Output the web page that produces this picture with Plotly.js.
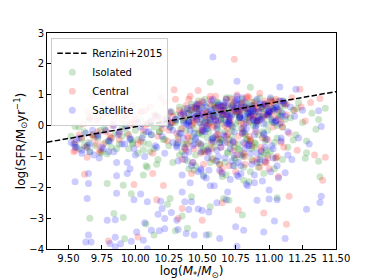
<!DOCTYPE html>
<html><head><meta charset="utf-8">
<script src="https://cdn.plot.ly/plotly-3.0.1.min.js"></script>
<style>html,body{margin:0;padding:0;background:#fff}#chart{width:374px;height:280px}</style>
</head><body><div id="chart"></div>
<script>
// Renzini+2015 main sequence endpoints
const lineX = [9.34, 11.5];
const lineY = [-0.54, 1.10];

// Isolated (green)
const isoX = [10.56,10.86,11.42,11.37,11.35,11.27,11.28,11.37,11.38,11.06,10.80,10.70,10.66,10.56,10.55,10.42,10.35,10.30,10.39,10.26,10.24,10.14,10.08,9.92,9.84,9.91,9.66,9.79,9.91,9.97,10.06,10.09,10.16,9.65,9.58,9.55,9.74,9.79,10.06,10.81,10.85,10.96,10.96,11.18,
9.52,9.55,9.58,9.60,9.62,9.65,9.68,9.70,9.72,9.75,9.77,9.80,9.82,9.85,9.88,9.90,9.92,9.95,9.97,10.00,10.02,10.04,10.06,10.08,10.10,10.12,10.14,10.15,10.17,10.19,10.21,10.23,10.25,10.27,10.28,10.30,10.32,10.33,10.35,10.36,10.38,10.39,10.40,10.41,10.42,10.43,10.45,10.46,10.47,10.48,10.49,10.50,10.51,10.52,10.53,10.54,10.55,10.56,10.57,10.58,10.59,10.60,10.61,10.62,10.63,10.64,10.65,10.66,10.67,10.68,10.69,10.70,10.71,10.72,10.73,10.74,10.75,10.76,10.77,10.78,10.79,10.80,10.81,10.82,10.83,10.84,10.85,10.86,10.87,10.88,10.89,10.90,10.91,10.92,10.93,10.94,10.95,10.96,10.97,10.98,10.99,11.00,11.01,11.02,11.03,11.04,11.05,11.06,11.08,11.10,11.12,11.14,11.16,11.18,11.20,11.22,11.25,11.28,
10.45,10.55,10.65,10.75,10.85,10.95,10.60,10.70,10.80,10.90,10.50,10.40,10.62,10.72,10.82,10.92,10.58,10.68,10.78,10.88,10.98,10.44,10.54,10.64,10.74,10.84,11.04,10.36,10.26,10.18,9.64,9.98,10.11,10.31,10.67,10.77,10.87,11.11,11.21,11.32,
10.31,10.34,10.37,10.40,10.43,10.46,10.49,10.52,10.55,10.58,10.61,10.64,10.67,10.70,10.73,10.76,10.79,10.82,10.85,10.88,10.91,10.94,10.97,11.00,11.03,11.06,11.09,11.12,
10.33,10.39,10.45,10.51,10.57,10.63,10.69,10.75,10.81,10.87,10.93,10.99,11.05,
10.36,10.42,10.48,10.54,10.60,10.66,10.72,10.78,10.84,10.90,10.96,11.02,11.08,
10.47,10.53,10.59,10.65,10.71,10.77,10.83,10.89,
9.62,9.70,9.78,9.86,9.94,10.02,10.10,10.18,10.26,
9.66,9.74,9.82,9.90,9.98,10.06,10.14,10.22,10.30,
10.38,10.44,10.50,10.56,10.62,10.68,10.74,10.80,10.86,10.92,10.98,11.04,11.10,10.41,10.47,10.53,10.59,10.65,10.71,10.77,10.83,10.89,10.95,11.01,11.07];
const isoY = [1.40,1.24,0.56,0.20,-0.12,-1.06,-0.88,-1.16,-1.66,-2.34,-2.90,-2.42,-2.36,-2.63,-3.53,-2.31,-2.93,-3.41,-3.33,-2.36,-2.55,-3.55,-3.19,-3.67,-2.85,-2.98,-3.00,-1.88,-1.93,-2.21,-1.60,-1.35,-1.25,0.18,-0.05,-0.03,-0.90,-0.92,-0.78,-1.77,-1.82,-1.55,-0.90,-0.47,
-0.35,-0.62,-0.75,-0.45,-0.20,-0.55,-0.30,-0.65,-0.40,-0.85,-0.10,-0.50,-0.70,-0.25,-0.60,-0.35,0.05,-0.75,-0.45,-0.15,-0.90,0.20,-0.55,-1.30,0.10,-0.30,-0.75,0.35,-1.10,0.00,-0.45,0.25,-0.65,0.45,-1.20,0.10,-0.35,0.60,-0.85,0.15,-0.15,0.40,-1.40,-0.50,0.70,0.05,-0.95,0.30,-0.25,0.55,-0.65,0.20,-1.60,0.85,-0.10,0.45,-0.75,0.10,0.65,-0.40,0.30,-1.15,0.00,0.75,-0.55,0.25,-1.65,0.50,-0.20,0.90,-0.85,0.15,0.40,-0.35,0.70,-1.30,0.05,0.55,-0.60,0.30,-0.10,0.85,-0.95,0.20,0.60,-0.45,0.35,-1.50,0.75,0.00,-0.70,0.45,0.15,-0.30,0.90,-1.00,0.25,0.55,-0.50,0.70,-0.15,0.40,-0.85,0.60,0.10,-1.40,0.80,-0.40,0.35,-0.05,0.65,-0.70,0.25,0.50,-0.30,0.75,0.10,-0.50,
0.60,0.35,0.05,0.35,0.10,-0.20,0.55,-0.45,0.50,-0.60,-0.30,0.25,-0.15,0.65,-0.25,0.30,-0.55,0.45,-0.80,0.65,0.05,-0.10,-0.40,0.20,-1.05,0.40,0.50,-0.60,0.05,-0.20,-0.70,-0.55,-0.85,-0.60,-1.20,0.15,-1.10,0.80,0.55,0.40,
0.35,-0.10,0.55,0.15,-0.35,0.45,0.05,0.65,-0.20,0.30,0.75,-0.45,0.20,0.55,-0.05,0.40,0.70,-0.30,0.25,0.50,0.05,0.60,-0.40,0.30,0.55,0.00,0.45,0.20,
-0.95,-1.15,-1.30,-0.80,-1.05,-1.25,-0.90,-1.10,-1.35,-0.75,-1.20,-0.95,-1.05,
0.20,0.50,-0.25,0.10,0.40,0.65,-0.15,0.25,0.50,0.80,0.35,0.15,0.60,
-0.55,-0.65,-0.70,-0.50,-0.60,-0.75,-0.45,-0.55,
-0.65,-0.35,-0.55,-0.75,-0.25,-0.45,-0.60,-0.20,-0.05,
-0.85,-0.15,-0.40,-0.10,-0.60,-0.30,-0.05,-0.45,0.15,
-0.60,-1.45,-0.85,-1.20,-0.40,-1.60,-0.70,-1.00,-0.50,-1.35,-0.80,-0.55,-1.10,0.50,0.80,0.20,0.65,0.35,0.90,0.45,0.70,0.15,0.55,0.85,0.30];

// Central (red)
const cenX = [10.74,10.47,10.29,10.19,11.23,11.31,11.38,11.34,11.42,11.40,11.15,11.13,10.96,10.77,10.65,10.50,10.35,10.32,10.21,10.16,10.02,9.80,9.64,9.62,9.99,10.13,9.54,9.71,9.84,9.86,9.66,9.74,9.81,9.55,10.99,10.64,10.82,10.91,10.97,11.07,
9.55,9.58,9.61,9.63,9.66,9.69,9.71,9.73,9.76,9.78,9.80,9.83,9.86,9.88,9.90,9.93,9.95,9.97,10.00,10.02,10.04,10.06,10.09,10.11,10.13,10.15,10.17,10.20,10.22,10.24,10.26,10.28,10.30,10.31,10.33,10.35,10.37,10.38,10.40,10.41,10.43,10.44,10.46,10.47,10.49,10.50,10.51,10.53,10.54,10.56,10.57,10.58,10.60,10.61,10.62,10.64,10.65,10.66,10.68,10.69,10.70,10.72,10.73,10.74,10.76,10.77,10.78,10.80,10.81,10.82,10.84,10.85,10.86,10.88,10.89,10.90,10.92,10.93,10.94,10.96,10.97,10.98,11.00,11.01,11.03,11.05,11.07,11.09,11.11,11.13,11.15,11.17,11.19,11.21,11.24,11.27,
9.76,9.82,9.88,9.94,10.00,10.08,10.14,9.72,9.92,10.05,10.18,10.25,10.36,10.42,10.48,10.52,10.58,10.63,10.67,10.71,10.75,10.79,10.83,10.87,10.91,10.95,10.99,10.45,10.55,10.65,10.85,10.39,10.59,10.69,10.79,10.89,11.02,9.68,9.98,10.27,
10.32,10.35,10.38,10.41,10.44,10.47,10.50,10.53,10.56,10.59,10.62,10.65,10.68,10.71,10.74,10.77,10.80,10.83,10.86,10.89,10.92,10.95,10.98,11.01,11.04,11.07,11.10,11.13,
10.34,10.40,10.46,10.52,10.58,10.64,10.70,10.76,10.82,10.88,10.94,11.00,11.06,
10.37,10.43,10.49,10.55,10.61,10.67,10.73,10.79,10.85,10.91,10.97,11.03,11.09,
10.44,10.50,10.56,10.62,10.68,10.74,10.80,10.86,
9.60,9.68,9.76,9.84,9.92,10.00,10.08,10.16,10.24,
9.64,9.72,9.80,9.88,9.96,10.04,10.12,10.20,10.28,
10.39,10.45,10.51,10.57,10.63,10.69,10.75,10.81,10.87,10.93,10.99,11.05,11.11,10.42,10.48,10.54,10.60,10.66,10.72,10.78,10.84,10.90,10.96,11.02,11.08];
const cenY = [2.15,1.14,1.16,0.90,1.18,0.75,0.88,-0.95,-1.03,-1.77,-2.29,-3.20,-2.83,-2.74,-2.50,-3.07,-2.69,-3.01,-1.94,-2.40,-3.61,-3.74,-1.03,-1.58,-1.91,-1.55,-0.85,-0.60,0.62,0.45,0.25,-0.78,-0.35,-0.80,-1.05,-1.50,-1.25,-1.10,-1.20,-1.65,
-0.55,-0.30,0.05,-0.70,0.25,-0.40,0.15,-0.85,0.30,-0.20,0.55,0.00,0.40,-0.45,0.20,0.50,-0.30,0.10,0.35,-0.60,0.45,-0.15,0.05,0.60,-0.90,0.30,-0.35,0.20,0.75,-0.50,0.40,0.10,0.85,-0.25,0.50,-1.10,0.25,0.65,-0.40,0.95,0.15,-0.75,0.55,0.35,-0.15,0.80,-1.25,0.45,0.00,0.70,-0.55,0.30,0.95,-0.30,0.15,0.60,-1.40,0.40,0.85,-0.10,0.25,0.65,-0.80,0.50,1.00,-0.35,0.35,0.75,0.05,-1.00,0.55,0.90,-0.45,0.30,0.65,-0.20,0.45,1.05,-0.70,0.25,0.80,-1.20,0.40,0.60,-0.05,0.85,0.20,-0.55,0.70,0.35,-0.25,0.90,0.50,-0.80,0.60,0.15,0.75,-0.40,0.45,
0.30,0.20,0.05,0.35,-0.20,0.55,0.45,0.10,-0.15,0.40,0.00,0.70,0.30,-0.05,0.45,0.65,0.20,0.50,0.10,0.55,0.35,0.15,0.60,0.40,0.25,0.05,0.50,-0.35,-0.60,0.00,-0.30,0.55,0.75,0.80,0.95,0.65,0.10,-0.45,-0.10,-0.80,
0.50,0.10,0.70,-0.15,0.40,0.85,0.20,-0.30,0.60,0.35,0.05,0.75,0.45,-0.10,0.90,0.30,0.55,0.15,-0.40,0.65,0.80,0.25,0.50,-0.05,0.70,0.40,0.85,0.20,
-0.85,-1.10,-0.70,-1.30,-0.95,-0.60,-1.15,-0.80,-1.40,-1.00,-0.75,-1.20,-0.90,
0.25,0.60,0.00,0.45,0.70,0.15,0.55,0.35,0.75,0.10,0.60,0.40,0.95,
-0.45,-0.35,-0.55,-0.25,-0.50,-0.40,-0.30,-0.60,
0.20,0.35,0.10,0.50,0.30,0.15,0.45,0.25,0.40,
-0.25,0.05,-0.50,0.15,-0.10,0.30,-0.35,0.55,0.05,
-0.75,-1.25,-0.55,-1.50,-0.90,-0.65,-1.35,-0.45,-1.05,-0.70,-1.55,-0.60,-0.85,0.60,0.35,0.85,0.50,0.95,0.25,0.70,0.45,0.80,0.60,0.55,0.75];

// Satellite (blue)
const satX = [10.58,10.76,11.08,11.20,11.37,11.39,11.39,11.38,11.28,11.12,11.04,10.96,10.76,10.75,10.81,10.63,10.53,10.44,10.38,10.32,10.22,10.18,10.17,10.22,10.27,10.31,10.37,10.42,10.40,10.47,10.50,10.55,10.35,10.20,10.19,10.09,10.04,9.99,10.12,10.07,10.06,10.09,10.01,9.97,9.89,9.85,9.85,9.81,9.79,9.85,9.65,9.63,9.67,9.64,9.65,9.65,9.55,9.86,9.86,9.94,9.96,9.94,9.86,9.80,9.73,9.66,9.54,9.56,11.12,11.17,11.14,11.00,11.06,10.91,11.00,10.84,10.79,10.76,10.89,10.68,10.69,10.61,10.56,10.51,10.49,
9.52,9.55,9.58,9.60,9.63,9.66,9.69,9.72,9.75,9.78,9.81,9.84,9.87,9.90,9.93,9.96,9.99,10.02,10.05,10.07,10.10,10.12,10.15,10.17,10.20,10.22,10.24,10.26,10.28,10.30,10.32,10.34,10.36,10.37,10.39,10.40,10.42,10.43,10.45,10.46,10.48,10.49,10.50,10.52,10.53,10.54,10.56,10.57,10.58,10.59,10.61,10.62,10.63,10.64,10.66,10.67,10.68,10.69,10.71,10.72,10.73,10.74,10.76,10.77,10.78,10.79,10.81,10.82,10.83,10.84,10.86,10.87,10.88,10.89,10.91,10.92,10.93,10.94,10.96,10.97,10.98,10.99,11.01,11.02,11.03,11.05,11.06,11.08,11.10,11.12,11.14,11.16,11.19,11.22,11.25,11.30,
10.46,10.51,10.56,10.61,10.66,10.71,10.76,10.81,10.86,10.91,10.96,10.48,10.53,10.58,10.63,10.68,10.73,10.78,10.83,10.88,10.93,10.44,10.54,10.64,10.74,10.84,10.94,10.59,10.69,10.79,10.89,10.99,10.41,10.36,10.31,10.26,11.04,11.09,10.62,10.72,10.82,10.87,10.57,10.67,10.77,
10.30,10.33,10.36,10.39,10.42,10.45,10.48,10.51,10.54,10.57,10.60,10.63,10.66,10.69,10.72,10.75,10.78,10.81,10.84,10.87,10.90,10.93,10.96,10.99,11.02,11.05,11.08,11.11,
10.31,10.34,10.37,10.40,10.43,10.46,10.49,10.52,10.55,10.58,10.61,10.64,10.67,10.70,10.73,10.76,10.79,10.82,10.85,10.88,10.91,10.94,10.97,11.00,11.03,11.06,11.09,11.12,
10.35,10.41,10.47,10.53,10.59,10.65,10.71,10.77,10.83,10.89,10.95,11.01,11.07,
10.38,10.44,10.50,10.56,10.62,10.68,10.74,10.80,10.86,10.92,10.98,11.04,11.10,
9.56,9.64,9.72,9.80,9.88,9.96,10.04,10.12,10.20,10.28,10.36,10.44,
9.60,9.68,9.76,9.84,9.92,10.00,10.08,10.16,10.24,10.32,10.40,10.48,
10.40,10.45,10.50,10.55,10.60,10.65,10.70,10.75,10.80,10.85,10.90,10.95,11.00,11.05,
10.37,10.43,10.49,10.55,10.61,10.67,10.73,10.79,10.85,10.91,10.97,11.03,11.09,10.40,10.46,10.52,10.58,10.64,10.70,10.76,10.82,10.88,10.94,11.00,11.06,10.50,10.60,10.70,10.80,10.90];
const satY = [2.22,1.44,1.25,1.18,0.48,-0.03,-2.29,-2.49,-2.71,-3.66,-3.09,-3.45,-3.91,-3.28,-3.39,-3.66,-3.55,-3.55,-3.50,-3.37,-3.34,-3.41,-2.87,-3.01,-2.82,-3.07,-2.47,-2.47,-2.72,-2.70,-2.75,-2.80,-2.15,-2.69,-2.45,-2.47,-2.22,-2.40,-3.39,-3.15,-3.72,-3.99,-3.45,-3.75,-3.83,-3.62,-3.93,-3.82,-3.07,-3.05,-3.55,-3.77,-3.77,-2.36,-1.88,-1.55,-1.82,-2.19,-1.63,-1.55,-1.40,-1.20,-1.20,-0.85,-1.05,-0.85,-0.60,-0.70,-1.53,-1.10,-0.95,-2.38,-2.40,-2.42,-2.09,-1.95,-1.55,-1.60,-1.85,-2.40,-2.15,-2.50,-1.95,-1.65,-1.45,
-0.55,-0.70,-0.40,-0.80,-0.25,-0.60,-0.95,-0.35,-0.70,-0.15,-0.50,-0.85,-0.30,-0.60,-0.05,-0.45,-0.75,0.10,-0.40,-1.00,-0.20,0.15,-0.65,0.30,-0.35,-0.90,0.05,0.45,-0.55,0.20,-1.15,-0.25,0.35,-0.70,0.55,0.00,-1.30,0.25,-0.45,0.70,0.10,-0.85,0.40,-0.20,0.60,-1.05,0.15,0.80,-0.50,0.30,-0.10,0.65,-1.45,0.20,0.50,-0.35,0.85,0.05,-0.75,0.35,0.60,-0.20,0.95,-1.20,0.25,0.50,-0.55,0.75,0.10,0.40,-0.90,0.65,0.20,-0.30,0.85,0.45,-1.10,0.55,0.05,0.70,-0.45,0.35,0.90,-0.65,0.55,0.15,-1.30,0.80,0.40,0.70,-0.20,0.60,0.30,-0.40,0.50,-0.60,
0.20,-0.15,0.35,0.05,-0.30,0.25,0.45,-0.05,0.30,0.15,-0.25,0.50,0.00,-0.40,0.40,0.10,-0.55,0.30,-0.10,0.55,0.20,-0.60,-0.80,-0.70,-0.95,-0.65,-0.85,0.55,0.65,0.60,0.45,0.35,-0.15,-0.40,-0.65,-0.05,0.10,0.30,-1.00,-1.15,-0.75,-1.25,-0.45,0.75,0.70,
0.20,-0.25,0.45,0.05,0.60,-0.40,0.30,0.75,-0.10,0.50,0.15,-0.55,0.65,0.35,0.00,0.80,0.25,-0.20,0.55,0.40,0.10,0.70,-0.30,0.45,0.20,0.60,0.05,0.75,
-0.70,0.35,-0.95,0.10,-1.20,0.55,-0.60,0.25,-1.45,0.40,-0.80,0.65,-1.05,0.15,-0.50,0.85,-1.30,0.30,-0.65,0.50,-0.90,0.20,-1.15,0.45,-0.75,0.60,-0.40,0.30,
-1.60,-1.85,-1.50,-1.70,-1.95,-1.55,-1.75,-1.65,-1.90,-1.60,-1.80,-1.50,-1.70,
0.05,0.40,0.60,0.20,0.70,0.35,0.55,0.90,0.45,0.25,0.65,0.50,0.80,
-0.45,-0.65,-0.30,-0.50,-0.20,-0.40,-0.05,-0.30,0.05,-0.15,0.10,-0.25,
-0.90,-0.15,-0.75,0.00,-0.60,-0.95,-0.20,-0.70,0.20,-0.55,-0.85,0.35,
0.15,0.30,-0.05,0.45,0.20,0.35,0.10,0.55,0.25,0.40,0.00,0.30,0.50,0.15,
-1.10,-0.65,-1.40,-0.85,-1.15,-0.55,-1.30,-0.95,-0.60,-1.20,-0.70,-1.05,-0.50,0.40,0.65,0.10,0.85,0.50,0.30,0.75,0.60,0.20,0.70,0.45,0.55,-0.20,-0.35,0.05,-0.25,-0.10];

const mk = (c) => ({color: c, size: 7, opacity: 0.2, line: {width: 0}});
const traces = [
  {x: isoX, y: isoY, mode: 'markers', type: 'scatter', name: 'Isolated', marker: mk('#008000'), legendrank: 2, hoverinfo: 'skip'},
  {x: cenX, y: cenY, mode: 'markers', type: 'scatter', name: 'Central', marker: mk('#ff0000'), legendrank: 3, hoverinfo: 'skip'},
  {x: satX, y: satY, mode: 'markers', type: 'scatter', name: 'Satellite', marker: mk('#0000ff'), legendrank: 4, hoverinfo: 'skip'},
  {x: lineX, y: lineY, mode: 'lines', type: 'scatter', name: 'Renzini+2015', line: {color: '#000', width: 1.5, dash: '5.5px,2.4px'}, legendrank: 1, hoverinfo: 'skip'}
];
const layout = {
  width: 374, height: 280,
  margin: {l: 47, r: 38, t: 33, b: 31},
  paper_bgcolor: '#fff', plot_bgcolor: '#fff',
  font: {family: 'DejaVu Sans', size: 10, color: '#000'}, showlegend: true,
  legend: {x: 0.015, y: 0.978, xanchor: 'left', yanchor: 'top', bgcolor: 'rgba(255,255,255,0.85)', bordercolor: '#ccc', borderwidth: 1, font: {family: 'DejaVu Sans', size: 10}, tracegroupgap: 0},
  xaxis: {range: [9.34, 11.5], tickvals: [9.5,9.75,10,10.25,10.5,10.75,11,11.25,11.5], tickformat: '.2f', ticks: 'inside', ticklen: 4, tickcolor: '#000', showline: true, linecolor: '#000', linewidth: 1, mirror: true, showgrid: false, zeroline: false,
    title: {text: 'log(<i>M</i><sub>*</sub>/<i>M</i><sub>⊙</sub>)', font: {family: 'DejaVu Sans', size: 12}, standoff: 3}},
  yaxis: {range: [-4, 3], dtick: 1, tick0: 0, ticks: 'inside', ticklen: 4, tickcolor: '#000', showline: true, linecolor: '#000', linewidth: 1, mirror: true, showgrid: false, zeroline: false,
    title: {text: 'log(SFR/M<sub>⊙</sub>yr<sup>−1</sup>)', font: {family: 'DejaVu Sans', size: 12}, standoff: 0}}
};
Plotly.newPlot('chart', traces, layout, {staticPlot: true, displayModeBar: false});
</script></body></html>
